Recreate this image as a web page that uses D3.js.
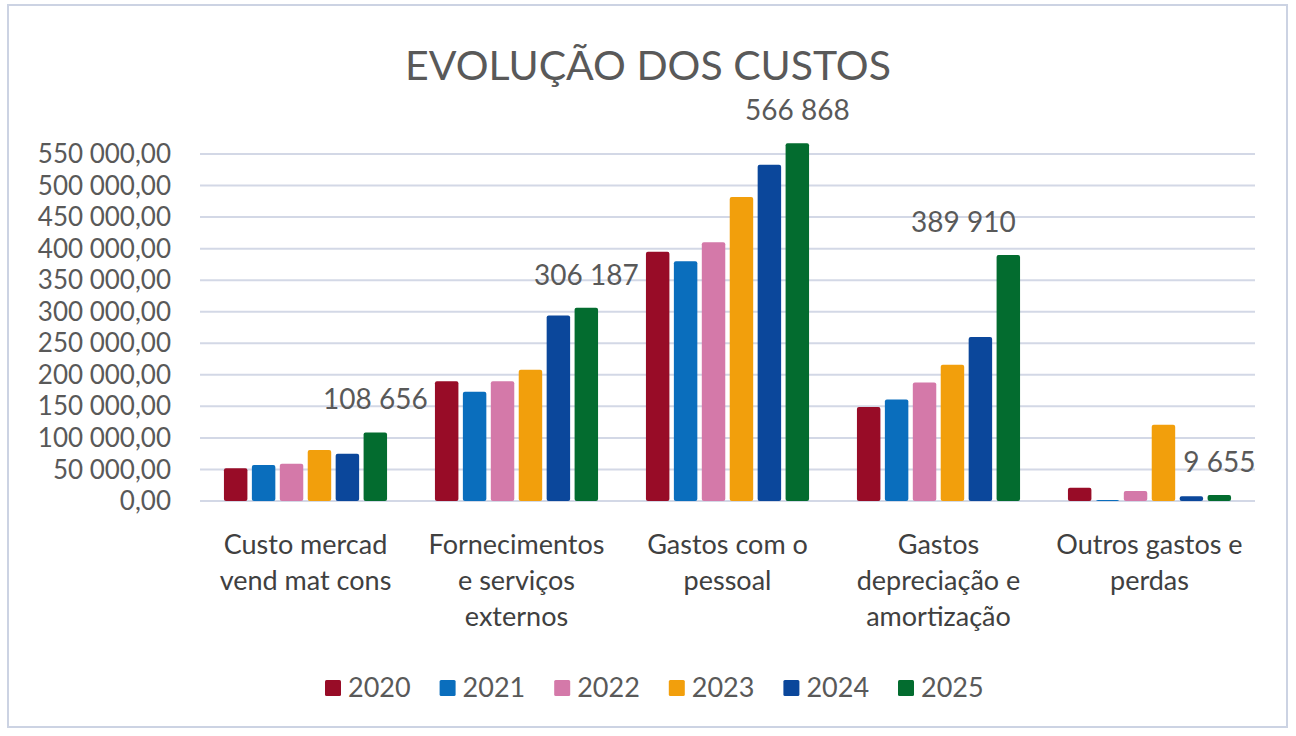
<!DOCTYPE html>
<html>
<head>
<meta charset="utf-8">
<script src="https://cdn.jsdelivr.net/npm/d3@7"></script>
<style>
  body { margin: 0; background: #fff; }
  svg { display: block; font-family: Lato, "Noto Sans", sans-serif; }
</style>
</head>
<body>
<div id="chart"></div>
<script>
// chart data
var categories = [
  ["Custo mercad", "vend mat cons"],
  ["Fornecimentos", "e serviços", "externos"],
  ["Gastos com o", "pessoal"],
  ["Gastos", "depreciação e", "amortização"],
  ["Outros gastos e", "perdas"]
];
var years = ["2020", "2021", "2022", "2023", "2024", "2025"];
var v2020 = [52000, 190000, 395000, 149000, 21000];
var v2021 = [57000, 173000, 380000, 161000, 1500];
var v2022 = [59000, 190000, 410000, 188000, 16000];
var v2023 = [81000, 208000, 482000, 216000, 121000];
var v2024 = [75000, 294000, 533000, 260000, 7500];
var v2025 = [108656, 306187, 566868, 389910, 9655];
var yTicks = [0, 50000, 100000, 150000, 200000, 250000, 300000, 350000, 400000, 450000, 500000, 550000];

var series = [v2020, v2021, v2022, v2023, v2024, v2025];
var colors = ["#980c27", "#0a6ebd", "#d479a9", "#f29f0c", "#0b479b", "#036c2f"];

var W = 1296, H = 736;
var svg = d3.select("#chart").append("svg")
    .attr("width", W)
    .attr("height", H);

// frame
svg.append("rect")
    .attr("x", 8).attr("y", 5)
    .attr("width", 1279).attr("height", 722)
    .attr("fill", "#fff")
    .attr("stroke", "#ccd3e3")
    .attr("stroke-width", 2);

var x0 = d3.scaleBand()
    .domain(d3.range(categories.length))
    .range([200, 1255])
    .paddingInner(0.227)
    .paddingOuter(0.1135);

var x1 = d3.scaleBand()
    .domain(d3.range(years.length))
    .range([0, x0.bandwidth()])
    .paddingInner(0.16);

var y = d3.scaleLinear()
    .domain([0, 550000])
    .range([501, 154]);

var pt = d3.formatLocale({decimal: ",", thousands: " ", grouping: [3], currency: ["", ""]});
var tickFmt = pt.format(",.2f");
var labelFmt = pt.format(",.0f");

// title
svg.append("text")
    .attr("x", 648).attr("y", 80)
    .attr("text-anchor", "middle")
    .attr("font-size", 41)
    .attr("fill", "#595959")
    .text("EVOLUÇÃO DOS CUSTOS");

// gridlines
svg.append("g").selectAll("line")
    .data(yTicks)
    .enter().append("line")
    .attr("x1", 200).attr("x2", 1255)
    .attr("y1", function(d){ return y(d); })
    .attr("y2", function(d){ return y(d); })
    .attr("stroke", "#d3d8e6")
    .attr("stroke-width", 2);

// y axis labels
svg.append("g").selectAll("text")
    .data(yTicks)
    .enter().append("text")
    .attr("x", 171)
    .attr("y", function(d){ return y(d); })
    .attr("dy", "0.35em")
    .attr("text-anchor", "end")
    .attr("font-size", 26)
    .attr("fill", "#595959")
    .text(function(d){ return tickFmt(d); });

// bars
var groups = svg.append("g").selectAll("g")
    .data(categories)
    .enter().append("g")
    .attr("transform", function(d, i){ return "translate(" + x0(i) + ",0)"; });

groups.selectAll("rect")
    .data(function(d, i){
        return series.map(function(s, k){ return {k: k, v: s[i]}; });
    })
    .enter().append("rect")
    .attr("x", function(d){ return x1(d.k); })
    .attr("width", x1.bandwidth())
    .attr("y", function(d){ return y(d.v); })
    .attr("height", function(d){ return y(0) - y(d.v); })
    .attr("rx", 2)
    .attr("fill", function(d){ return colors[d.k]; });

// data labels on 2025 series
var last = years.length - 1;
svg.append("g").selectAll("text")
    .data(v2025)
    .enter().append("text")
    .attr("x", function(d, i){
        var cx = x0(i) + x1(last) + x1.bandwidth()/2;
        if(i == 3) cx -= 45; // this label sits left of its bar
        return cx;
    })
    .attr("y", function(d){ return y(d) - 33; })
    .attr("dy", "0.35em")
    .attr("text-anchor", "middle")
    .attr("font-size", 28)
    .attr("fill", "#595959")
    .text(function(d){ return labelFmt(d); });

// category labels
var cat = svg.append("g").selectAll("text")
    .data(categories)
    .enter().append("text")
    .attr("x", function(d, i){ return x0(i) + x0.bandwidth()/2; })
    .attr("y", 545)
    .attr("text-anchor", "middle")
    .attr("font-size", 27)
    .attr("fill", "#404040");

cat.selectAll("tspan")
    .data(function(d){ return d; })
    .enter().append("tspan")
    .attr("x", function(){ return this.parentNode.getAttribute("x"); })
    .attr("y", function(d, j){ return 545 + j*36; })
    .attr("dy", "0.35em")
    .text(function(d){ return d; });

// legend
var legend = svg.append("g").selectAll("g")
    .data(years)
    .enter().append("g")
    .attr("transform", function(d, i){ return "translate(" + (325 + i*114.6) + ",688)"; });

legend.append("rect")
    .attr("x", 0).attr("y", -8)
    .attr("width", 16).attr("height", 16)
    .attr("rx", 1.5)
    .attr("fill", function(d, i){ return colors[i]; });

legend.append("text")
    .attr("x", 23).attr("y", 0)
    .attr("dy", "0.35em")
    .attr("font-size", 27)
    .attr("fill", "#595959")
    .text(function(d){ return d; });
</script>
</body>
</html>
